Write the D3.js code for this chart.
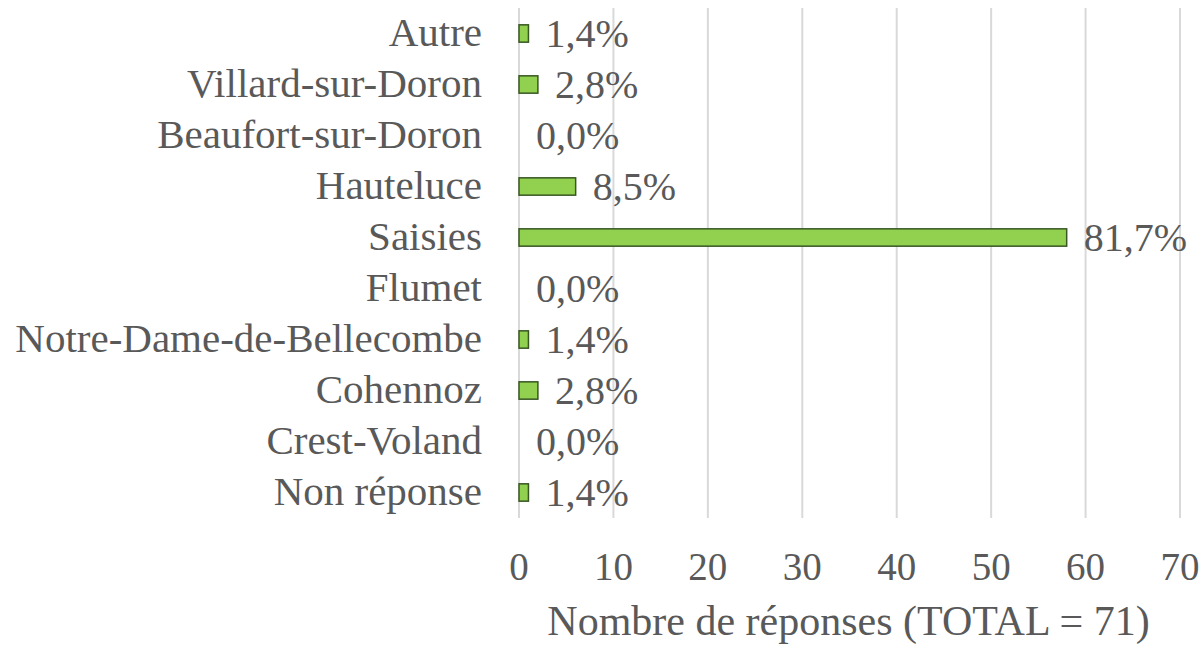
<!DOCTYPE html>
<html>
<head>
<meta charset="utf-8">
<script src="https://cdn.jsdelivr.net/npm/d3@7"></script>
<style>
  body { margin: 0; background: #fff; }
  text { font-family: "Liberation Serif", "DejaVu Serif", serif; fill: #595959; }
</style>
</head>
<body>
<div id="chart"></div>
<script>
var categories = ["Autre", "Villard-sur-Doron", "Beaufort-sur-Doron", "Hauteluce", "Saisies",
                  "Flumet", "Notre-Dame-de-Bellecombe", "Cohennoz", "Crest-Voland", "Non réponse"];
var counts = [1, 2, 0, 6, 58, 0, 1, 2, 0, 1];
var total = 71;
var ticks = [0, 10, 20, 30, 40, 50, 60, 70];
var axisTitle = "Nombre de réponses (TOTAL = 71)";

var width = 1204, height = 646;
var margin = {top: 8, right: 24, bottom: 128, left: 519};

var rows = categories.map(function(c, i) { return {name: c, value: counts[i]}; });

var svg = d3.select("#chart").append("svg")
    .attr("width", width)
    .attr("height", height);

var x = d3.scaleLinear()
    .domain([0, 70])
    .range([margin.left, width - margin.right]);

var y = d3.scaleBand()
    .domain(categories)
    .range([margin.top, height - margin.bottom])
    .paddingInner(0.66)
    .paddingOuter(0.33);

// gridlines
svg.append("g")
    .selectAll("line")
    .data(ticks)
    .enter().append("line")
    .attr("x1", function(d) { return x(d); })
    .attr("x2", function(d) { return x(d); })
    .attr("y1", margin.top)
    .attr("y2", height - margin.bottom)
    .attr("stroke", "#d9d9d9")
    .attr("stroke-width", 2);

// bars (zero values draw nothing)
svg.append("g")
    .selectAll("rect")
    .data(rows.filter(function(d) { return d.value > 0; }))
    .enter().append("rect")
    .attr("x", x(0))
    .attr("y", function(d) { return y(d.name); })
    .attr("width", function(d) { return x(d.value) - x(0); })
    .attr("height", y.bandwidth())
    .attr("fill", "#92d050")
    .attr("stroke", "#385723")
    .attr("stroke-width", 1.5);

// category labels
svg.append("g")
    .selectAll("text")
    .data(rows)
    .enter().append("text")
    .attr("x", margin.left - 37)
    .attr("y", function(d) { return y(d.name) + y.bandwidth() / 2 + 12; })
    .attr("text-anchor", "end")
    .attr("font-size", 41)
    .text(function(d) { return d.name; });

// value labels
svg.append("g")
    .selectAll("text")
    .data(rows)
    .enter().append("text")
    .attr("x", function(d) { return x(d.value) + 17; })
    .attr("y", function(d) { return y(d.name) + y.bandwidth() / 2 + 13; })
    .attr("font-size", 40)
    .text(function(d) { return (d.value / total * 100).toFixed(1).replace(".", ",") + "%"; });

// x axis tick labels
svg.append("g")
    .selectAll("text")
    .data(ticks)
    .enter().append("text")
    .attr("x", function(d) { return x(d); })
    .attr("y", 580)
    .attr("text-anchor", "middle")
    .attr("font-size", 39)
    .text(function(d) { return d; });

svg.append("text")
    .attr("x", (x(0) + x(70)) / 2 - 1)
    .attr("y", 635)
    .attr("text-anchor", "middle")
    .attr("font-size", 42)
    .text(axisTitle);
</script>
</body>
</html>
